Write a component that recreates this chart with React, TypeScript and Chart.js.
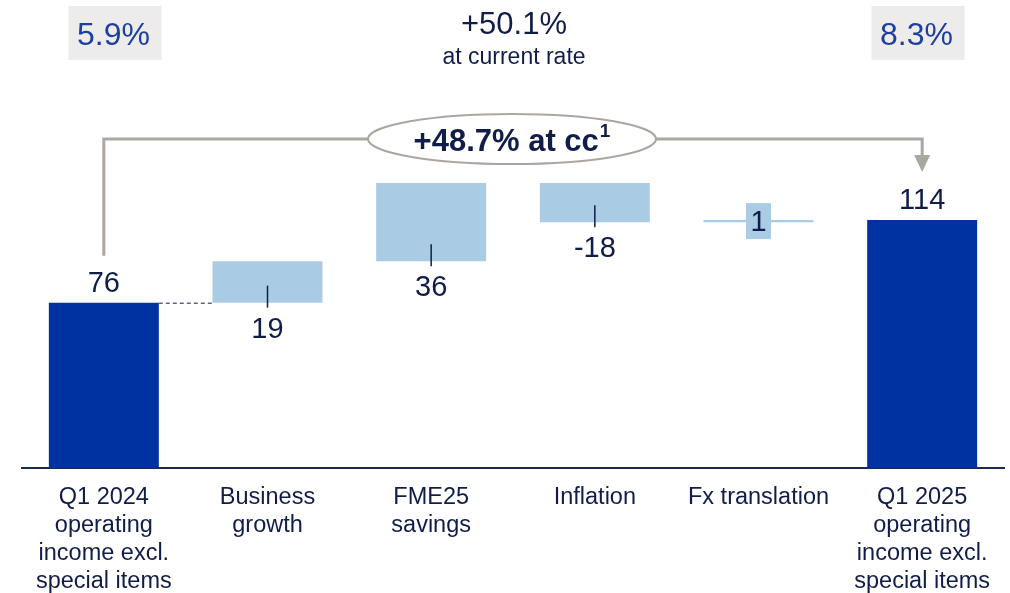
import React, { useEffect, useRef } from "react";
import { Chart, registerables } from "chart.js";
Chart.register(...registerables);

const categories: string[][] = [
  ["Q1 2024", "operating", "income excl.", "special items"],
  ["Business", "growth"],
  ["FME25", "savings"],
  ["Inflation"],
  ["Fx translation"],
  ["Q1 2025", "operating", "income excl.", "special items"],
];
const values: number[] = [76, 19, 36, -18, 1, 114];
const kinds: string[] = ["total", "delta", "delta", "delta", "delta", "total"];
const valueLabels: string[] = ["76", "19", "36", "-18", "1", "114"];
const marginStart = "5.9%";
const marginEnd = "8.3%";
const growthCurrent = "+50.1%";
const growthCurrentNote = "at current rate";
const growthCc = "+48.7% at cc";
const growthCcNote = "1";

const FONT = "'Liberation Sans', Arial, sans-serif";
const DARK_BAR = "#0033A1";
const LIGHT_BAR = "#AACBE4";
const TEXT = "#0F1D48";
const GREY = "#ABA69F";
const BOX_GREY = "#EDECEA";
const PCT_BLUE = "#1D3FA0";

function buildRanges(): number[][] {
  let run = 0;
  return values.map((v, i) => {
    if (kinds[i] === "total") {
      run = v;
      return [0, v];
    }
    const s = run;
    run += v;
    return [s, run];
  });
}

const annotationPlugin = {
  id: "waterfallAnnotations",
  afterDraw(chart: any) {
    const ctx = chart.ctx as CanvasRenderingContext2D;
    const meta = chart.getDatasetMeta(0);
    const bars = meta.data.map((b: any) => b.getProps(["x", "y", "base", "width"], true));
    ctx.save();

    // value labels
    bars.forEach((b: any, i: number) => {
      const top = Math.min(b.y, b.base);
      const low = Math.max(b.y, b.base);
      ctx.font = `29px ${FONT}`;
      ctx.textAlign = "center";
      ctx.fillStyle = TEXT;
      if (kinds[i] === "total") {
        ctx.textBaseline = "alphabetic";
        ctx.fillText(valueLabels[i], b.x, top - 11);
      } else if (Math.abs(values[i]) < 3) {
        const cy = (top + low) / 2;
        ctx.fillStyle = LIGHT_BAR;
        ctx.fillRect(b.x - 12.5, cy - 18, 25, 36);
        ctx.fillStyle = TEXT;
        ctx.textBaseline = "alphabetic";
        ctx.fillText(valueLabels[i], b.x, cy + 10);
      } else {
        ctx.strokeStyle = TEXT;
        ctx.lineWidth = 1.5;
        ctx.beginPath();
        ctx.moveTo(b.x, low - 17);
        ctx.lineTo(b.x, low + 5);
        ctx.stroke();
        ctx.textBaseline = "alphabetic";
        ctx.fillText(valueLabels[i], b.x, low + 35);
      }
    });

    // dashed connector from first total to first delta
    if (bars.length > 1) {
      const a = bars[0];
      const b = bars[1];
      const yy = Math.min(a.y, a.base);
      ctx.strokeStyle = TEXT;
      ctx.lineWidth = 1;
      ctx.setLineDash([4, 3]);
      ctx.beginPath();
      ctx.moveTo(a.x + a.width / 2, yy + 0.5);
      ctx.lineTo(b.x - b.width / 2, yy + 0.5);
      ctx.stroke();
      ctx.setLineDash([]);
    }

    // bracket
    const first = bars[0];
    const last = bars[bars.length - 1];
    const bracketY = 139;
    ctx.strokeStyle = GREY;
    ctx.lineWidth = 3;
    ctx.beginPath();
    ctx.moveTo(first.x, Math.min(first.y, first.base) - 47);
    ctx.lineTo(first.x, bracketY);
    ctx.lineTo(last.x, bracketY);
    ctx.lineTo(last.x, 156);
    ctx.stroke();
    ctx.fillStyle = GREY;
    ctx.beginPath();
    ctx.moveTo(last.x - 8, 155);
    ctx.lineTo(last.x + 8, 155);
    ctx.lineTo(last.x, 172);
    ctx.closePath();
    ctx.fill();

    // ellipse
    const ex = 512;
    ctx.beginPath();
    ctx.ellipse(ex, bracketY, 144, 25, 0, 0, Math.PI * 2);
    ctx.fillStyle = "#FFFFFF";
    ctx.fill();
    ctx.lineWidth = 2;
    ctx.strokeStyle = GREY;
    ctx.stroke();
    ctx.font = `bold 31px ${FONT}`;
    const w1 = ctx.measureText(growthCc).width;
    ctx.font = `bold 19px ${FONT}`;
    const w2 = ctx.measureText(growthCcNote).width;
    const sx = ex - (w1 + w2 + 1) / 2;
    ctx.fillStyle = TEXT;
    ctx.textAlign = "left";
    ctx.textBaseline = "alphabetic";
    ctx.font = `bold 31px ${FONT}`;
    ctx.fillText(growthCc, sx, 151);
    ctx.font = `bold 19px ${FONT}`;
    ctx.fillText(growthCcNote, sx + w1 + 1, 137);

    // top boxes
    const drawBox = (cx: number, text: string) => {
      ctx.fillStyle = BOX_GREY;
      ctx.fillRect(cx - 46.5, 6, 93, 54);
      ctx.fillStyle = PCT_BLUE;
      ctx.font = `32px ${FONT}`;
      ctx.textAlign = "center";
      ctx.fillText(text, cx - 1.5, 45);
    };
    drawBox(115, marginStart);
    drawBox(918, marginEnd);

    ctx.fillStyle = TEXT;
    ctx.textAlign = "center";
    ctx.font = `31px ${FONT}`;
    ctx.fillText(growthCurrent, 514, 34);
    ctx.font = `23px ${FONT}`;
    ctx.fillText(growthCurrentNote, 514, 64);

    ctx.restore();
  },
};

export default function App() {
  const ref = useRef<HTMLCanvasElement | null>(null);
  useEffect(() => {
    if (!ref.current) return;
    const ranges = buildRanges();
    const chart = new Chart(ref.current, {
      type: "bar",
      data: {
        labels: categories,
        datasets: [
          {
            data: ranges as any,
            backgroundColor: kinds.map((k) => (k === "total" ? DARK_BAR : LIGHT_BAR)),
            borderWidth: 0,
            borderSkipped: false,
            barPercentage: 0.672,
            categoryPercentage: 1,
          },
        ],
      },
      options: {
        animation: false,
        responsive: false,
        devicePixelRatio: 1,
        layout: { padding: { left: 22, right: 6, top: 141.7, bottom: 0 } },
        plugins: { legend: { display: false }, tooltip: { enabled: false } },
        scales: {
          x: {
            grid: { display: false },
            border: { display: true, color: "#1B2A55", width: 2 },
            ticks: {
              color: TEXT,
              font: { family: FONT, size: 23.5, lineHeight: 1.19 },
              padding: 8,
              maxRotation: 0,
              autoSkip: false,
            },
            afterFit: (scale: any) => {
              scale.height = 125;
            },
          },
          y: { display: false, min: 0, max: 150 },
        },
      },
      plugins: [annotationPlugin],
    });
    return () => chart.destroy();
  }, []);
  return (
    <div style={{ position: "fixed", left: 0, top: 0, width: 1010, height: 593, background: "#fff" }}>
      <canvas ref={ref} width={1010} height={593} style={{ display: "block" }} />
    </div>
  );
}
